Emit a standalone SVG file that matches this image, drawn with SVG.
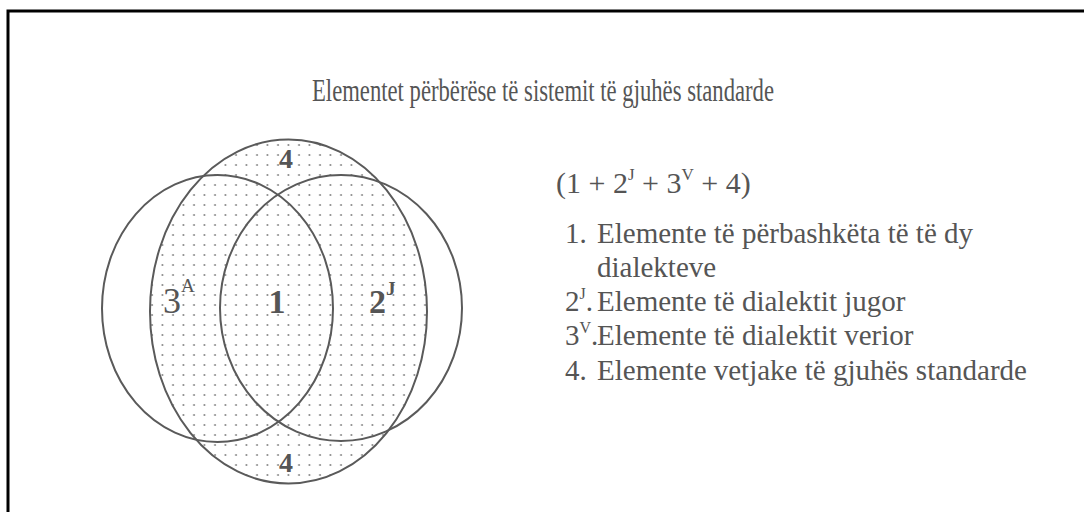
<svg xmlns="http://www.w3.org/2000/svg" width="1084" height="512" viewBox="0 0 1084 512">
  <defs>
    <pattern id="dots" width="10.5" height="10" patternUnits="userSpaceOnUse">
      <circle cx="5" cy="5" r="0.95" fill="#7a7a7a"/>
    </pattern>
    <style>
      .t { font-family: "Liberation Serif", "Times New Roman", serif; fill: #555; }
      .c { fill: none; stroke: #5a5a5a; stroke-width: 2; }
      .lab { font-family: "Liberation Serif", "Times New Roman", serif; fill: #555; }
    </style>
  </defs>
  <rect x="0" y="0" width="1084" height="512" fill="#fff"/>
  <path d="M8 512 V11 H1084" fill="none" stroke="#000" stroke-width="3"/>

  <text id="title" class="t" x="312" y="101" font-size="32" textLength="462" lengthAdjust="spacingAndGlyphs">Elementet përbërëse të sistemit të gjuhës standarde</text>

  <g id="venn">
    <ellipse id="middle" cx="288.5" cy="311.5" rx="138.5" ry="172" fill="url(#dots)" stroke="none"/>
    <ellipse cx="288.5" cy="311.5" rx="138.5" ry="172" class="c"/>
    <ellipse id="left" cx="217.5" cy="308.5" rx="115.5" ry="133.5" class="c"/>
    <ellipse id="right" cx="341" cy="308" rx="121" ry="133" class="c"/>
    <text class="lab" x="286" y="168" text-anchor="middle" font-weight="bold" font-size="28">4</text>
    <text class="lab" x="286" y="472" text-anchor="middle" font-weight="bold" font-size="28">4</text>
    <text class="lab" x="163" y="313" font-size="36">3<tspan font-size="19" dy="-21">A</tspan></text>
    <text class="lab" x="277" y="313" text-anchor="middle" font-weight="bold" font-size="34">1</text>
    <text class="lab" x="369" y="313" font-weight="bold" font-size="34">2<tspan font-size="19" dy="-18">J</tspan></text>
  </g>

  <g id="legend" class="t" font-size="29">
    <text x="556" y="193" font-size="30">(1 + 2<tspan font-size="17" dy="-13">J</tspan><tspan dy="13"> + 3</tspan><tspan font-size="17" dy="-13">V</tspan><tspan dy="13">  + 4)</tspan></text>
    <text x="565" y="243">1.</text>
    <text x="597" y="243">Elemente të përbashkëta të të dy</text>
    <text x="597" y="277">dialekteve</text>
    <text x="565" y="311">2<tspan font-size="16" dy="-12">J</tspan><tspan dy="12">.</tspan></text>
    <text x="597" y="311">Elemente të dialektit jugor</text>
    <text x="565" y="345">3<tspan font-size="16" dy="-12">V</tspan><tspan dy="12">.</tspan></text>
    <text x="597" y="345">Elemente të dialektit verior</text>
    <text x="565" y="380">4.</text>
    <text x="597" y="380">Elemente vetjake të gjuhës standarde</text>
  </g>
</svg>
